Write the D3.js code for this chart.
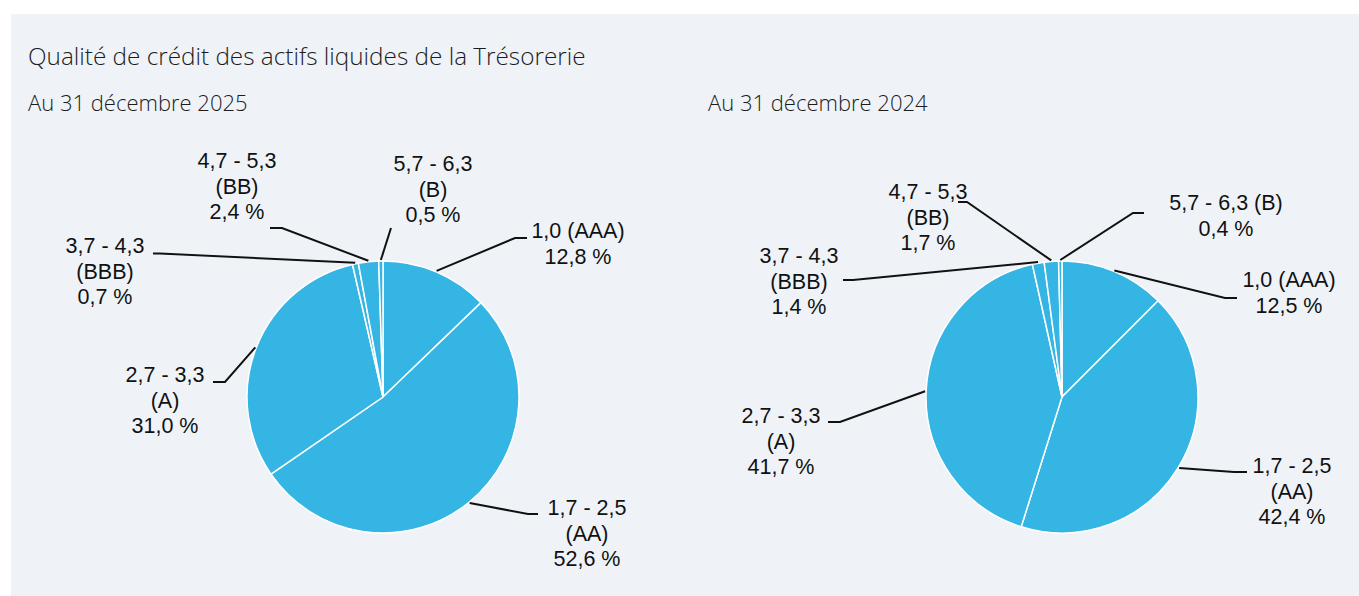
<!DOCTYPE html>
<html>
<head>
<meta charset="utf-8">
<script src="https://cdn.jsdelivr.net/npm/d3@7"></script>
<style>
  body { margin: 0; background: #fff; }
  svg { display: block; }
</style>
</head>
<body>
<div id="chart"></div>
<script>
// data
var ranges = ["1,0", "1,7 - 2,5", "2,7 - 3,3", "3,7 - 4,3", "4,7 - 5,3", "5,7 - 6,3"];
var ratings = ["AAA", "AA", "A", "BBB", "BB", "B"];
var values2025 = [12.8, 52.6, 31.0, 0.7, 2.4, 0.5];
var values2024 = [12.5, 42.4, 41.7, 1.4, 1.7, 0.4];

var title = "Qualité de crédit des actifs liquides de la Trésorerie";
var subtitles = ["Au 31 décembre 2025", "Au 31 décembre 2024"];

function init(){
    var w = 1359;
    var h = 596;
    var r = 136;
    var lineH = 25.5;

    // label placement for each pie (text centre, first baseline, elbow, end of horizontal)
    var layouts = [
      [
        {tx: 578, ty: 238, ex: 515, ey: 238, hx: 527, inline: true},
        {tx: 587, ty: 515, ex: 528, ey: 514, hx: 538},
        {tx: 165, ty: 382, ex: 225, ey: 382, hx: 213},
        {tx: 105, ty: 253, ex: 160, ey: 253.5, hx: 153},
        {tx: 237, ty: 168, ex: 282, ey: 228, hx: 270},
        {tx: 433, ty: 171, ex: 391, ey: 228, hx: 391}
      ],
      [
        {tx: 1289, ty: 287, ex: 1225, ey: 298, hx: 1237, inline: true},
        {tx: 1292, ty: 473, ex: 1234, ey: 472, hx: 1247},
        {tx: 781, ty: 423, ex: 840, ey: 422, hx: 828},
        {tx: 799, ty: 263, ex: 853, ey: 280, hx: 843},
        {tx: 928, ty: 199, ex: 967, ey: 202, hx: 958},
        {tx: 1226, ty: 210, ex: 1133, ey: 213, hx: 1144, inline: true}
      ]
    ];

    var pies = [
      {values: values2025, cx: 383, cy: 397, sx: 28, layout: layouts[0]},
      {values: values2024, cx: 1062, cy: 397, sx: 708, layout: layouts[1]}
    ];

    var fmt = function(v){ return d3.format(".1f")(v).replace(".", ",") + " %"; };

    var svg = d3.select("#chart")
                .append("svg")
                .attr("width", w)
                .attr("height", h);

    svg.append("rect")
       .attr("x", 11)
       .attr("y", 14)
       .attr("width", w - 11)
       .attr("height", h - 14)
       .attr("fill", "#eff3f8");

    svg.append("text")
       .attr("x", 28)
       .attr("y", 65)
       .text(title)
       .style("font-family", "'Open Sans', sans-serif")
       .style("font-weight", 300)
       .style("font-size", "24.3px")
       .style("fill", "#1c1c1c");

    var pie = d3.pie().sort(null).value(function(d){ return d; });
    var arc = d3.arc().innerRadius(0).outerRadius(r);

    pies.forEach(function(p, k){
        svg.append("text")
           .attr("x", p.sx)
           .attr("y", 111)
           .text(subtitles[k])
           .style("font-family", "'Open Sans', sans-serif")
           .style("font-weight", 300)
           .style("font-size", "22px")
           .style("fill", "#1c1c1c");

        var g = svg.append("g")
                   .attr("transform", "translate(" + p.cx + "," + p.cy + ")");

        var slices = pie(p.values);

        g.selectAll("path")
         .data(slices)
         .enter()
         .append("path")
         .attr("d", arc)
         .attr("fill", "#35b5e3")
         .attr("stroke", "white")
         .style("stroke-width", "1.5px");

        // leader lines
        svg.selectAll("polyline.l" + k)
           .data(slices)
           .enter()
           .append("polyline")
           .attr("class", "l" + k)
           .attr("points", function(d, i){
               var a = (d.startAngle + d.endAngle) / 2;
               var L = p.layout[i];
               var x0 = p.cx + (r + 1) * Math.sin(a);
               var y0 = p.cy - (r + 1) * Math.cos(a);
               return [[x0, y0], [L.ex, L.ey], [L.hx, L.ey]].join(" ");
           })
           .attr("fill", "none")
           .attr("stroke", "#111")
           .style("stroke-width", "2px");

        // labels
        var labels = svg.selectAll("text.lab" + k)
           .data(slices)
           .enter()
           .append("text")
           .attr("class", "lab" + k)
           .attr("text-anchor", "middle")
           .style("font-family", "'Liberation Sans', Arial, sans-serif")
           .style("font-size", "21.5px")
           .style("fill", "#111");

        labels.each(function(d, i){
            var L = p.layout[i];
            var lines = L.inline
                ? [ranges[i] + " (" + ratings[i] + ")", fmt(d.data)]
                : [ranges[i], "(" + ratings[i] + ")", fmt(d.data)];
            d3.select(this).selectAll("tspan")
              .data(lines)
              .enter()
              .append("tspan")
              .attr("x", L.tx)
              .attr("y", function(t, j){ return L.ty + j * lineH; })
              .text(function(t){ return t; });
        });
    });
}

window.onload = init;
</script>
</body>
</html>
